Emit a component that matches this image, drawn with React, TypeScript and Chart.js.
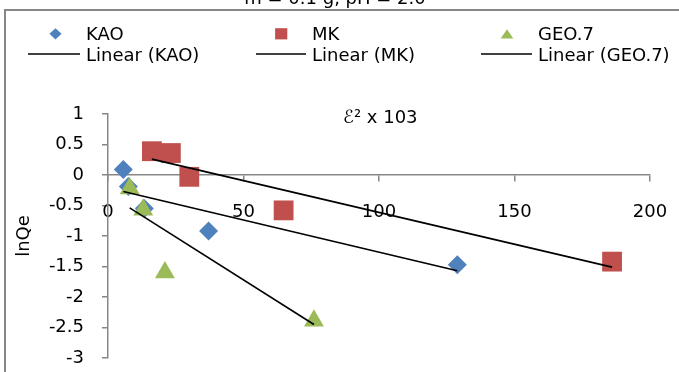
import React, { useEffect, useRef } from 'react';
import { Chart, registerables } from 'chart.js';

Chart.register(...registerables);

// ---------- data ----------
const TITLE = 'm = 0.1 g, pH = 2.0';
const X_TITLE = 'ℰ² x 103';
const Y_TITLE = 'lnQe';

const kaoX = [5.65, 7.5, 13.4, 37.1, 128.9];
const kaoY = [0.09, -0.19, -0.55, -0.92, -1.47];
const mkX = [16.2, 23.2, 30.0, 64.8, 186.0];
const mkY = [0.39, 0.36, -0.03, -0.58, -1.42];
const geoX = [8.0, 13.0, 21.0, 76.0];
const geoY = [-0.22, -0.57, -1.6, -2.39];

const kaoTrendX = [5.65, 128.9];
const kaoTrendY = [-0.27, -1.57];
const mkTrendX = [16.2, 186.0];
const mkTrendY = [0.26, -1.51];
const geoTrendX = [8.0, 76.0];
const geoTrendY = [-0.54, -2.45];

const xTicks = [0, 50, 100, 150, 200];
const yTicks = [1, 0.5, 0, -0.5, -1, -1.5, -2, -2.5, -3];

const seriesNames = ['KAO', 'MK', 'GEO.7'];
const trendNames = ['Linear (KAO)', 'Linear (MK)', 'Linear (GEO.7)'];

// ---------- styles ----------
const FONT = 'DejaVu Sans';
const BLUE = '#4F81BD';
const RED = '#C0504D';
const GREEN = '#9BBB59';
const AXIS = '#878787';

const toPts = (xs: number[], ys: number[]) => xs.map((x, i) => ({ x, y: ys[i] }));

function drawLegendMarker(ctx: CanvasRenderingContext2D, kind: string, x: number, y: number, color: string) {
  ctx.save();
  ctx.fillStyle = color;
  ctx.beginPath();
  if (kind === 'diamond') {
    ctx.moveTo(x, y - 5.6);
    ctx.lineTo(x + 6.1, y);
    ctx.lineTo(x, y + 5.6);
    ctx.lineTo(x - 6.1, y);
  } else if (kind === 'square') {
    ctx.rect(x - 6.1, y - 5.6, 12.2, 11.2);
  } else {
    ctx.moveTo(x, y - 4.6);
    ctx.lineTo(x + 6.3, y + 4.6);
    ctx.lineTo(x - 6.3, y + 4.6);
  }
  ctx.closePath();
  ctx.fill();
  ctx.restore();
}

const OFFSET = 16; // canvas is shifted up by this many px

const zeroPadding = (s: any) => {
  s.paddingLeft = 0;
  s.paddingRight = 0;
  s.paddingTop = 0;
  s.paddingBottom = 0;
};

const decorPlugin = {
  id: 'decor',
  afterDraw(chart: any) {
    const ctx: CanvasRenderingContext2D = chart.ctx;
    ctx.save();
    // outer frame (only top and left visible in the crop)
    ctx.strokeStyle = AXIS;
    ctx.lineWidth = 2;
    ctx.beginPath();
    ctx.moveTo(chart.width + 5, 10 + OFFSET);
    ctx.lineTo(5, 10 + OFFSET);
    ctx.lineTo(5, chart.height + 5);
    ctx.stroke();

    // title (mostly clipped above the frame)
    ctx.fillStyle = '#000';
    ctx.font = `18px "${FONT}"`;
    ctx.textAlign = 'center';
    ctx.textBaseline = 'alphabetic';
    ctx.fillText(TITLE, 335, 3.5 + OFFSET);

    // x-axis title inside plot area
    ctx.textAlign = 'left';
    ctx.textBaseline = 'middle';
    ctx.fillText(X_TITLE, 343, 118 + OFFSET);

    // legend
    const colX = [28, 256, 481];
    const lineLen = [52, 50, 51];
    const markerX = [55.5, 281.2, 507];
    const textX = [86, 312, 538];
    const kinds = ['diamond', 'square', 'triangle'];
    const ds = chart.data.datasets;
    ctx.textAlign = 'left';
    ctx.textBaseline = 'alphabetic';
    for (let i = 0; i < 3; i++) {
      const scatter = ds.find((d: any) => d.label === seriesNames[i]);
      drawLegendMarker(ctx, kinds[i], markerX[i], 33.8 + OFFSET, scatter.backgroundColor);
      ctx.fillStyle = '#000';
      ctx.fillText(seriesNames[i], textX[i], 39.5 + OFFSET);
      ctx.strokeStyle = '#000';
      ctx.lineWidth = 1.6;
      ctx.beginPath();
      ctx.moveTo(colX[i], 54 + OFFSET);
      ctx.lineTo(colX[i] + lineLen[i], 54 + OFFSET);
      ctx.stroke();
      ctx.fillText(trendNames[i], textX[i], 60.5 + OFFSET);
    }
    ctx.restore();
  },
};

export default function App() {
  const canvasRef = useRef<HTMLCanvasElement | null>(null);

  useEffect(() => {
    if (!canvasRef.current) return;
    Chart.defaults.font.family = FONT;
    const chart = new Chart(canvasRef.current, {
      type: 'scatter',
      data: {
        datasets: [
          {
            label: trendNames[0],
            data: toPts(kaoTrendX, kaoTrendY),
            showLine: true,
            borderColor: '#000',
            borderWidth: 1.6,
            pointRadius: 0,
            order: 0,
          },
          {
            label: trendNames[1],
            data: toPts(mkTrendX, mkTrendY),
            showLine: true,
            borderColor: '#000',
            borderWidth: 1.6,
            pointRadius: 0,
            order: 0,
          },
          {
            label: trendNames[2],
            data: toPts(geoTrendX, geoTrendY),
            showLine: true,
            borderColor: '#000',
            borderWidth: 1.6,
            pointRadius: 0,
            order: 0,
          },
          {
            label: seriesNames[2],
            data: toPts(geoX, geoY),
            pointStyle: 'triangle',
            pointRadius: 11.5,
            backgroundColor: GREEN,
            borderColor: GREEN,
            borderWidth: 0,
            order: 1,
          },
          {
            label: seriesNames[1],
            data: toPts(mkX, mkY),
            pointStyle: 'rect',
            pointRadius: 14,
            backgroundColor: RED,
            borderColor: RED,
            borderWidth: 0,
            order: 2,
          },
          {
            label: seriesNames[0],
            data: toPts(kaoX, kaoY),
            pointStyle: 'rectRot',
            pointRadius: 9.5,
            backgroundColor: BLUE,
            borderColor: BLUE,
            borderWidth: 0,
            order: 3,
          },
        ],
      },
      options: {
        responsive: false,
        animation: false,
        layout: { padding: { left: 0, right: 29, top: 114 + OFFSET, bottom: 13 } },
        plugins: {
          legend: { display: false },
          title: { display: false },
          tooltip: { enabled: false },
        },
        scales: {
          x: {
            type: 'linear',
            position: { y: 0 } as any,
            min: 0,
            max: 200,
            afterBuildTicks: (s: any) => {
              s.ticks = xTicks.map((v) => ({ value: v }));
            },
            afterFit: zeroPadding,
            ticks: {
              color: '#000',
              font: { size: 18, family: FONT },
              padding: 21,
              maxRotation: 0,
              callback: (v: any) => String(v),
            },
            grid: {
              drawOnChartArea: false,
              drawTicks: true,
              tickLength: 6,
              color: AXIS,
              lineWidth: 1.5,
            },
            border: { display: true, color: AXIS, width: 1.5 },
          },
          y: {
            type: 'linear',
            position: 'left',
            min: -3,
            max: 1,
            afterBuildTicks: (s: any) => {
              s.ticks = yTicks.map((v) => ({ value: v }));
            },
            afterFit: (s: any) => {
              s.width = 108;
              zeroPadding(s);
            },
            ticks: {
              color: '#000',
              font: { size: 18, family: FONT },
              padding: 18,
              callback: (v: any) => String(v),
            },
            grid: {
              drawOnChartArea: false,
              drawTicks: true,
              tickLength: 6,
              color: AXIS,
              lineWidth: 1.5,
            },
            border: { display: true, color: AXIS, width: 1.5 },
            title: {
              display: true,
              text: Y_TITLE,
              color: '#000',
              font: { size: 18, family: FONT },
              padding: { top: 14, bottom: 0 },
            },
          },
        },
      },
      plugins: [decorPlugin],
    });
    return () => chart.destroy();
  }, []);

  return (
    <div
      style={{
        position: 'absolute',
        left: 0,
        top: -OFFSET,
        width: 679,
        height: 372 + OFFSET,
        background: '#fff',
        overflow: 'hidden',
      }}
    >
      <canvas ref={canvasRef} width={679} height={372 + OFFSET} style={{ display: 'block' }} />
    </div>
  );
}
